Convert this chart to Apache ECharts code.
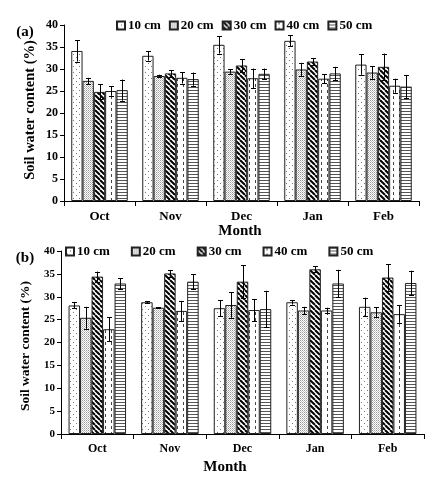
<!DOCTYPE html>
<html>
<head>
<meta charset="utf-8">
<script src="https://cdn.jsdelivr.net/npm/echarts@6/dist/echarts.min.js"></script>
<style>html,body{margin:0;padding:0;background:#fff}#c{width:444px;height:484px}</style>
</head>
<body>
<div id="c"></div>
<script>
const months = ['Oct', 'Nov', 'Dec', 'Jan', 'Feb'];
const depths = ['10 cm', '20 cm', '30 cm', '40 cm', '50 cm'];
const yTicks = [0, 5, 10, 15, 20, 25, 30, 35, 40];

// Panel (a)
const a10 = [34.1, 33.0, 35.5, 36.4, 31.0];
const a20 = [27.3, 28.4, 29.4, 29.9, 29.2];
const a30 = [24.8, 29.0, 30.8, 31.7, 30.5];
const a40 = [25.0, 28.0, 27.9, 27.8, 26.2];
const a50 = [25.2, 27.7, 28.9, 29.0, 26.0];
const aErr10 = [2.4, 1.1, 2.0, 1.25, 2.3];
const aErr20 = [0.7, 0.3, 0.5, 1.5, 1.4];
const aErr30 = [1.7, 0.75, 1.5, 0.7, 3.0];
const aErr40 = [1.1, 1.3, 2.2, 1.05, 1.6];
const aErr50 = [2.4, 1.5, 1.2, 1.5, 2.65];

// Panel (b)
const b10 = [28.1, 28.8, 27.5, 28.8, 27.8];
const b20 = [25.4, 27.6, 28.2, 27.0, 26.6];
const b30 = [34.4, 35.1, 33.3, 36.0, 34.2];
const b40 = [22.9, 26.9, 27.1, 27.0, 26.2];
const b50 = [32.9, 33.3, 27.3, 32.9, 33.0];
const bErr10 = [0.65, 0.2, 1.8, 0.5, 2.0];
const bErr20 = [2.4, 0.1, 2.8, 0.8, 1.1];
const bErr30 = [1.1, 0.7, 3.6, 0.65, 2.9];
const bErr40 = [2.6, 2.2, 2.4, 0.6, 1.9];
const bErr50 = [1.2, 1.6, 4.0, 3.0, 2.7];

const FONT = '"Liberation Serif", "Times New Roman", serif';

function mkPattern(w, h, draw) {
  const cv = document.createElement('canvas');
  cv.width = w; cv.height = h;
  const ctx = cv.getContext('2d');
  ctx.fillStyle = '#ffffff';
  ctx.fillRect(0, 0, w, h);
  draw(ctx);
  return { image: cv, repeat: 'repeat' };
}
const patterns = [
  mkPattern(6, 6, c => { c.fillStyle = '#777'; c.fillRect(1, 0, 1, 1); c.fillRect(4, 3, 1, 1); }),
  mkPattern(2, 2, c => { c.fillStyle = '#999'; c.fillRect(0, 0, 1, 1); c.fillStyle = '#c4c4c4'; c.fillRect(1, 1, 1, 1); }),
  mkPattern(5, 5, c => {
    c.strokeStyle = '#000'; c.lineWidth = 2;
    for (const o of [-5, 0, 5]) { c.beginPath(); c.moveTo(o, 0); c.lineTo(o + 5, 5); c.stroke(); }
  }),
  mkPattern(6, 6, c => { c.fillStyle = '#444'; c.fillRect(3, 0, 1, 3); }),
  mkPattern(3, 3, c => { c.fillStyle = '#555'; c.fillRect(0, 0, 3, 1); })
];

const aMeans = [a10, a20, a30, a40, a50];
const aErrs = [aErr10, aErr20, aErr30, aErr40, aErr50];
const bMeans = [b10, b20, b30, b40, b50];
const bErrs = [bErr10, bErr20, bErr30, bErr40, bErr50];

const BW = [11.3, 11.5];

function errData(means, errs) {
  const d = [];
  means.forEach((arr, k) => arr.forEach((v, i) => d.push([i, k, v - errs[k][i], v + errs[k][i]])));
  return d;
}
function errSeries(gi, means, errs) {
  return {
    type: 'custom', xAxisIndex: gi, yAxisIndex: gi, z: 10, silent: true,
    encode: { x: 0, y: [2, 3] },
    data: errData(means, errs),
    renderItem: (params, api) => {
      const c = api.value(0), k = api.value(1);
      const lo = api.coord([c, api.value(2)]);
      const hi = api.coord([c, api.value(3)]);
      const x = Math.round(lo[0] + (k - 2) * BW[gi]) + 0.5;
      const cap = 2.5;
      const st = { stroke: '#000', lineWidth: 1 };
      return { type: 'group', children: [
        { type: 'line', shape: { x1: x, y1: lo[1], x2: x, y2: hi[1] }, style: st },
        { type: 'line', shape: { x1: x - cap, y1: Math.round(lo[1]) + 0.5, x2: x + cap, y2: Math.round(lo[1]) + 0.5 }, style: st },
        { type: 'line', shape: { x1: x - cap, y1: Math.round(hi[1]) + 0.5, x2: x + cap, y2: Math.round(hi[1]) + 0.5 }, style: st }
      ]};
    }
  };
}

const series = [];
[aMeans, bMeans].forEach((means, gi) => {
  means.forEach((arr, k) => {
    series.push({
      name: depths[k], type: 'bar', xAxisIndex: gi, yAxisIndex: gi,
      data: arr, barWidth: BW[gi], barGap: '0%',
      itemStyle: { color: patterns[k], borderColor: '#222', borderWidth: 1 },
      emphasis: { disabled: true }
    });
  });
});
series.push(errSeries(0, aMeans, aErrs));
series.push(errSeries(1, bMeans, bErrs));

function xAxis(gi, fs) {
  return {
    type: 'category', gridIndex: gi, data: months,
    axisLine: { lineStyle: { color: '#000', width: 1 } },
    axisTick: { show: true, length: 5, lineStyle: { color: '#000' } },
    axisLabel: { color: '#000', fontFamily: FONT, fontWeight: 'bold', fontSize: fs, margin: 9 },
    splitLine: { show: false }
  };
}
function yAxis(gi, fs) {
  return {
    type: 'value', gridIndex: gi, min: 0, max: 40, interval: 5,
    axisLine: { show: true, lineStyle: { color: '#000', width: 1 } },
    axisTick: { show: true, length: 4, lineStyle: { color: '#000' } },
    axisLabel: { color: '#000', fontFamily: FONT, fontWeight: 'bold', fontSize: fs, margin: 6,
      formatter: v => yTicks.includes(v) ? String(v) : '' },
    splitLine: { show: false }
  };
}
function legend(left, top, gap) {
  return {
    data: depths, left: left, top: top, itemWidth: 8, itemHeight: 8, itemGap: gap,
    icon: 'rect', selectedMode: false,
    textStyle: { color: '#000', fontFamily: FONT, fontWeight: 'bold', fontSize: 13, padding: [0, 0, 0, -2] }
  };
}
function txt(str, x, y, fs, rot) {
  return { type: 'text', x: x, y: y, rotation: rot || 0,
    style: { text: str, fill: '#000', font: 'bold ' + fs + 'px ' + FONT, textAlign: 'center', textVerticalAlign: 'middle' } };
}

const chart = echarts.init(document.getElementById('c'), null, { renderer: 'canvas' });
chart.setOption({
  animation: false,
  backgroundColor: '#fff',
  grid: [
    { left: 64, top: 25, width: 355, height: 176 },
    { left: 61, top: 251, width: 363, height: 183 }
  ],
  xAxis: [xAxis(0, 13), xAxis(1, 12)],
  yAxis: [yAxis(0, 12), yAxis(1, 11)],
  legend: [legend(111, 14, 8), legend(60, 240, 21)],
  graphic: [
    txt('(a)', 25, 32, 15),
    txt('(b)', 25, 258, 15),
    txt('Soil water content (%)', 30, 110, 14.5, Math.PI / 2),
    txt('Soil water content (%)', 26, 346, 13.5, Math.PI / 2),
    txt('Month', 240, 231, 15),
    txt('Month', 225, 467, 15)
  ],
  series: series
});
</script>
</body>
</html>
